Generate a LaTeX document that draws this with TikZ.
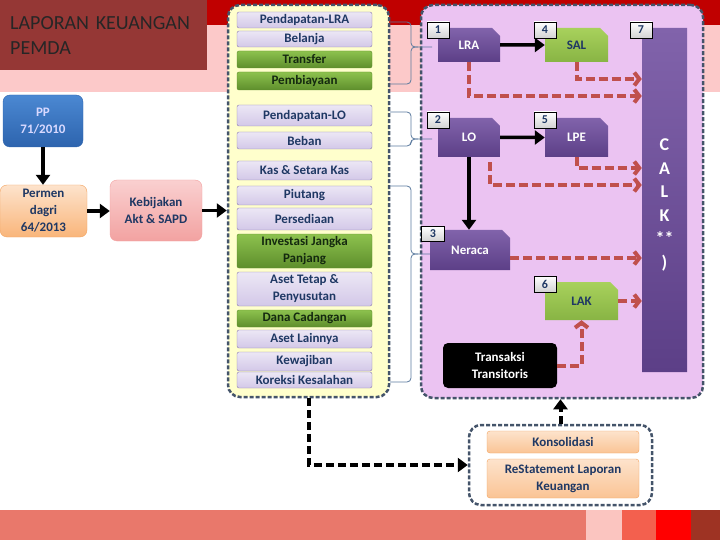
\documentclass[tikz,border=0pt]{standalone}
\usepackage{fontspec}
\setmainfont{Carlito}
\usetikzlibrary{arrows.meta,shapes.misc}

\definecolor{deepred}{HTML}{C00000}
\definecolor{bandpink}{HTML}{FCC9C9}
\definecolor{titlered}{HTML}{953735}
\definecolor{panelline}{HTML}{44546A}
\definecolor{lemon}{HTML}{FFFFCC}
\definecolor{lilac}{HTML}{EBC3F2}
\definecolor{navy}{HTML}{1F3864}
\definecolor{lavtop}{HTML}{ECE7F5}
\definecolor{lavbot}{HTML}{D3C8E8}
\definecolor{lavline}{HTML}{8B7BAE}
\definecolor{greentop}{HTML}{8DC24E}
\definecolor{greenbot}{HTML}{5E8E2C}
\definecolor{greentext}{HTML}{14290F}
\definecolor{purptop}{HTML}{8163AB}
\definecolor{purpbot}{HTML}{5C3F87}
\definecolor{limetop}{HTML}{A8D15C}
\definecolor{limebot}{HTML}{88B444}
\definecolor{brick}{HTML}{C0504D}
\definecolor{bracecol}{HTML}{5B7A9E}
\definecolor{bluetop}{HTML}{4B88D2}
\definecolor{bluebot}{HTML}{2D64AE}
\definecolor{peachtop}{HTML}{FDE3CC}
\definecolor{peachbot}{HTML}{F9B57A}
\definecolor{peachline}{HTML}{F2A25E}
\definecolor{rosetop}{HTML}{FAD0D0}
\definecolor{rosebot}{HTML}{F2A2A1}
\definecolor{barsalmon}{HTML}{E9786B}
\definecolor{barpink}{HTML}{FBC5C0}
\definecolor{bartomato}{HTML}{F3604E}
\definecolor{barred}{HTML}{FF0000}
\definecolor{barbrown}{HTML}{9E3323}

\newcommand{\boxfont}{\fontsize{13}{17}\selectfont\bfseries}
\newcommand{\bracketto}[3]{%
  \draw[bracket] (390,#1) -- (411,#1) -- (411,#2) -- (432,#2);
  \draw[bracket] (390,#3) -- (411,#3) -- (411,#2) -- (418,#2);}

\tikzset{
  panel/.style={draw=panelline, line width=2.5pt, dash pattern=on 4pt off 2pt,
    rounded corners=12pt, inner sep=0pt},
  item/.style={draw=lavline, top color=lavtop, bottom color=lavbot, rounded corners=2pt,
    minimum width=135pt, inner sep=0pt, text=navy, font=\boxfont, align=center},
  gitem/.style={item, draw=greenbot, top color=greentop, bottom color=greenbot, text=greentext},
  srcbox/.style={rounded corners=7pt, inner sep=0pt, text=navy, font=\boxfont, align=center},
  report/.style={chamfered rectangle, chamfered rectangle corners=north east,
    chamfered rectangle xsep=4pt, chamfered rectangle ysep=4pt,
    top color=purptop, bottom color=purpbot, inner sep=0pt, text=white, font=\boxfont},
  limebox/.style={top color=limetop, bottom color=limebot, text=navy},
  numbox/.style={draw=black, line width=0.8pt, top color=white, bottom color=gray!35,
    minimum width=22pt, minimum height=16pt, inner sep=0pt, text=navy,
    font=\fontsize{12}{12}\selectfont\bfseries},
  adjbox/.style={draw=peachline, top color=peachtop, bottom color=peachbot!80!white,
    rounded corners=3pt, minimum width=152pt, inner sep=0pt, text=navy, font=\boxfont, align=center},
  bracket/.style={draw=bracecol, line width=0.8pt, rounded corners=4pt},
  solidarrow/.style={line width=3.5pt, -{Triangle[length=10pt,width=14pt]}},
  reddash/.style={draw=brick, line width=4pt, dash pattern=on 9pt off 4pt,
    -{Straight Barb[length=5pt,width=13pt]}},
  blackdash/.style={line width=4pt, dash pattern=on 8pt off 4pt,
    -{Triangle[length=10pt,width=14pt]}}
}

\begin{document}
\begin{tikzpicture}[x=1pt,y=-1pt]
\useasboundingbox (0,0) rectangle (720,540);

% background bands
\fill[deepred] (0,0) rectangle (720,25);
\fill[bandpink] (0,25) rectangle (720,92);
\fill[barsalmon] (0,510) rectangle (586,540);
\fill[barpink] (586,510) rectangle (622,540);
\fill[bartomato] (622,510) rectangle (656,540);
\fill[barred] (656,510) rectangle (691,540);
\fill[barbrown] (691,510) rectangle (720,540);

\node[fill=titlered, anchor=north west, minimum width=207pt, minimum height=70pt,
  text width=187pt, align=left, inner sep=0pt, text=black!85,
  font=\fontsize{20}{25}\selectfont] (title) at (0,0) {LAPORAN KEUANGAN\\PEMDA};

% source boxes
\node[srcbox, draw=bluebot, top color=bluetop, bottom color=bluebot, text=blue!15!white,
  minimum width=80pt, minimum height=52pt] (pp) at (43,121) {PP\\71/2010};
\node[srcbox, draw=peachline, top color=peachtop, bottom color=peachbot,
  minimum width=87pt, minimum height=52pt] (permen) at (43.5,211) {Permen\\dagri\\64/2013};
\node[srcbox, draw=rosebot, top color=rosetop, bottom color=rosebot,
  minimum width=92pt, minimum height=61pt] (kebijakan) at (156,210.5) {Kebijakan\\Akt \& SAPD};

% panels
\node[panel, fill=lemon, minimum width=161pt, minimum height=392pt] (lists) at (308.5,201) {};
\node[panel, fill=lilac, minimum width=282pt, minimum height=393pt] (reports) at (562,201.5) {};
\node[panel, fill=white, minimum width=183pt, minimum height=80pt] (adjust) at (560.5,465) {};

\draw[solidarrow] (pp.south) -- (pp.south |- permen.north);
\draw[solidarrow] (permen.east) -- (kebijakan.west |- permen.east);
\draw[solidarrow] (kebijakan.east) -- (lists.west |- kebijakan.east);

% account items
\begin{scope}[every node/.style={item}]
  \node (plra) at (304.5,20) [minimum height=16pt] {Pendapatan-LRA};
  \node (belanja) at (304.5,39) [minimum height=16pt] {Belanja};
  \node[gitem] (transfer) at (304.5,59.5) [minimum height=17pt] {Transfer};
  \node[gitem] (biaya) at (304.5,81) [minimum height=18pt] {Pembiayaan};
  \node (plo) at (304.5,115.5) [minimum height=21pt] {Pendapatan-LO};
  \node (beban) at (304.5,140.5) [minimum height=17pt] {Beban};
  \node (kas) at (304.5,170.5) [minimum height=19pt] {Kas \& Setara Kas};
  \node (piutang) at (304.5,195.5) [minimum height=19pt] {Piutang};
  \node (sedia) at (304.5,219) [minimum height=22pt] {Persediaan};
  \node[gitem] (invest) at (304.5,251) [minimum height=34pt] {Investasi Jangka\\Panjang};
  \node (aset) at (304.5,289) [minimum height=34pt] {Aset Tetap \&\\Penyusutan};
  \node[gitem] (dana) at (304.5,318.5) [minimum height=17pt] {Dana Cadangan};
  \node (lain) at (304.5,339) [minimum height=18pt] {Aset Lainnya};
  \node (wajib) at (304.5,361.5) [minimum height=19pt] {Kewajiban};
  \node (koreksi) at (304.5,380) [minimum height=16pt] {Koreksi Kesalahan};
\end{scope}

\bracketto{22}{47}{84}
\bracketto{112}{139}{146}
\bracketto{186}{254}{382}

% reports
\node[report, minimum width=62pt, minimum height=34pt] (lra) at (469,45) {LRA};
\node[report, limebox, minimum width=63pt, minimum height=34pt] (sal) at (576.5,45) {SAL};
\node[report, minimum width=62pt, minimum height=39pt] (lo) at (469,137.5) {LO};
\node[report, minimum width=63pt, minimum height=39pt] (lpe) at (576.5,137.5) {LPE};
\node[report, minimum width=80pt, minimum height=40pt] (neraca) at (470,250) {Neraca};
\node[report, limebox, minimum width=73pt, minimum height=38pt] (lak) at (581.5,301) {LAK};
\node[report, minimum width=45pt, minimum height=344pt,
  label={[yshift=-5pt, text=white, align=center, font=\fontsize{18}{23.5}\selectfont\bfseries]center:C\\A\\L\\K\\**\\)}]
  (calk) at (664.5,200) {};
\node[fill=black, rounded corners=5pt, minimum width=114pt, minimum height=45pt, inner sep=0pt,
  text=white, font=\boxfont, align=center] (transit) at (500,365.5) {Transaksi\\Transitoris};

\node[numbox] (n1) at (438,30) {1};
\node[numbox] (n4) at (545,30) {4};
\node[numbox] (n7) at (641,30) {7};
\node[numbox] (n2) at (438,120) {2};
\node[numbox] (n5) at (545,120) {5};
\node[numbox, minimum width=23pt, minimum height=15pt] (n3) at (433,234) {3};
\node[numbox] (n6) at (545,284) {6};

\draw[solidarrow] (lra) -- (sal);
\draw[solidarrow] (lo) -- (lpe);
\draw[solidarrow] (lo.south) -- (lo.south |- neraca.north);

\draw[reddash] (sal.south) |- (calk.west |- 0,79);
\draw[reddash] (lra.south) |- (calk.west |- 0,96);
\draw[reddash] (lpe.south) |- (calk.west |- 0,168);
\draw[reddash] ([xshift=-10pt,yshift=-5pt]lo.south east) |- (calk.west |- 0,185);
\draw[reddash] ([yshift=-8pt]neraca.east) -- (calk.west |- 0,258);
\draw[reddash] (lak.east) -- (calk.west |- lak.east);
\draw[reddash] (transit.east) -| (lak.south);

% adjustments
\node[adjbox, minimum height=22pt] (konsol) at (563,442) {Konsolidasi};
\node[adjbox, minimum height=39pt] (restate) at (563,478.5) {ReStatement Laporan\\Keuangan};

\draw[blackdash] (lists.south) |- (adjust.west);
\draw[blackdash] (adjust.north) -- (adjust.north |- reports.south);

\end{tikzpicture}
\end{document}
